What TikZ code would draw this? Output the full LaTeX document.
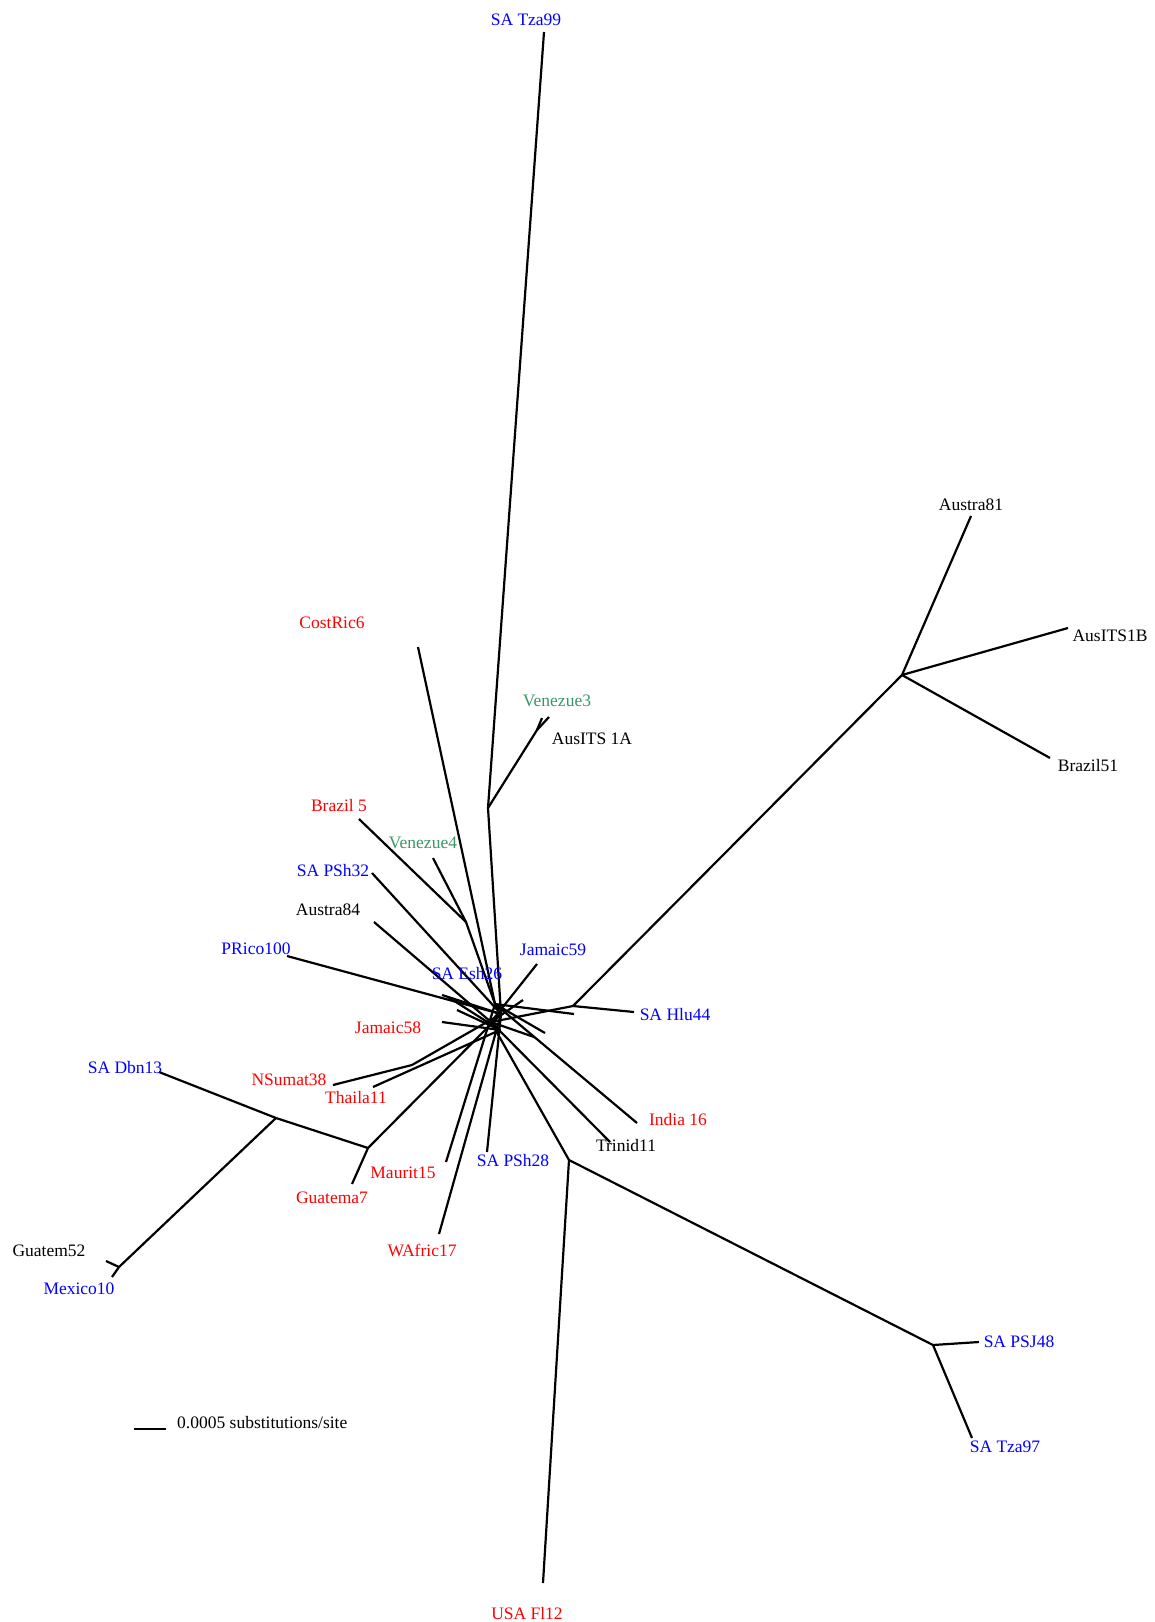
\documentclass[tikz,border=0pt]{standalone}
\usepackage{fontspec}
\setmainfont{Liberation Serif}
\usetikzlibrary{positioning}
\definecolor{venezgreen}{RGB}{56,152,100}

\begin{document}
\begin{tikzpicture}[x=1pt, y=-1pt,
    branch/.style={line width=2.2pt},
    every node/.style={font=\fontsize{17.5}{20}\selectfont, inner sep=0pt},
    bl/.style={text=blue}, rd/.style={text=red}, gr/.style={text=venezgreen}]
    \useasboundingbox (0,0) rectangle (1155,1622);
    % Pontas (tips)
    \coordinate (tTza99) at (544,32);
    \coordinate (tCost) at (418,647);
    \coordinate (tVen3) at (549,717);
    \coordinate (tAus1A) at (542,718);
    \coordinate (tBra5) at (359,819);
    \coordinate (tVen4) at (433,858);
    \coordinate (tPSh32) at (372,873);
    \coordinate (tAus84) at (374,922);
    \coordinate (tPRico) at (287,956);
    \coordinate (tJam59) at (537,964);
    \coordinate (tHlu) at (634,1012);
    \coordinate (tAus81) at (971,516);
    \coordinate (tAus1B) at (1068,628);
    \coordinate (tBra51) at (1050,758);
    \coordinate (tJam58) at (442,1022);
    \coordinate (tNSum) at (333,1085);
    \coordinate (tTha) at (373,1087);
    \coordinate (tDbn) at (159,1072);
    \coordinate (tGua52) at (106,1261);
    \coordinate (tMex) at (112,1277);
    \coordinate (tGua7) at (352,1184);
    \coordinate (tMau) at (446,1162);
    \coordinate (tWAf) at (439,1234);
    \coordinate (tPSh28) at (487,1152);
    \coordinate (tTri) at (610,1142);
    \coordinate (tInd) at (637,1123);
    \coordinate (tFl) at (543,1583);
    \coordinate (tPSJ) at (979,1342);
    \coordinate (tTza97) at (972,1438);
    % Nos internos
    \coordinate (nA) at (488,808);
    \coordinate (nV) at (537,730);
    \coordinate (nBV) at (466,922);
    \coordinate (nH) at (573,1006);
    \coordinate (nR) at (902,675);
    \coordinate (nL) at (569,1160);
    \coordinate (nP) at (933,1345);
    \coordinate (nG) at (368,1148);
    \coordinate (nD) at (276,1118);
    \coordinate (nM) at (119,1267);
    \coordinate (nT) at (412,1065);
    % Centro (estrela)
    \coordinate (k1) at (495,1004);
    \coordinate (k2) at (501,1014);
    \coordinate (k3) at (491,1022);
    \coordinate (k4) at (500,1030);
    \coordinate (s1) at (448,997);
    \coordinate (s2) at (457,1010);
    \coordinate (s3) at (523,1000);
    \coordinate (s4) at (545,1033);
    \coordinate (s5) at (534,1037);
    \coordinate (s6) at (574,1014);
    \coordinate (s7) at (442,995);
    % Ramos
    \foreach \a/\b in {tTza99/nA, nA/nV, nV/tVen3, nV/tAus1A, nA/k2,
        tCost/k1, tBra5/nBV, tVen4/nBV, nBV/k1, tPSh32/k2, tAus84/k3,
        tPRico/k2, tJam59/k3, nH/k3, nH/tHlu, nH/nR, nR/tAus81, nR/tAus1B,
        nR/tBra51, s6/k1, tInd/k1, tTri/k3, nL/k3, nL/tFl, nL/nP, nP/tPSJ,
        nP/tTza97, tPSh28/k2, tWAf/k2, tMau/k1, nG/k2, nG/tGua7, nG/nD,
        nD/tDbn, nD/nM, nM/tGua52, nM/tMex, tNSum/nT, nT/k2, tTha/k4,
        tJam58/k4, s1/k4, s2/k4, s3/k3, s4/k1, s5/k3, s7/k2, k1/k2, k2/k3,
        k3/k4}{
        \draw[branch] (\a) -- (\b);
    }
    % Nomes
    \node[bl] (lTza99) at (526,20) {SA Tza99};
    \node[rd] (lCost) at (332,623) {CostRic6};
    \node[gr] (lVen3) at (557,701) {Venezue3};
    \node (lAus1A) at (592,739) {AusITS 1A};
    \node[rd] (lBra5) at (339,806) {Brazil 5};
    \node[gr] (lVen4) at (423,843) {Venezue4};
    \node[bl] (lPSh32) at (333,871) {SA PSh32};
    \node (lAus84) at (328,910) {Austra84};
    \node[bl] (lPRico) at (256,949) {PRico100};
    \node[bl] (lJam59) at (553,950) {Jamaic59};
    \node[bl] (lEsh) at (467,974) {SA Esh26};
    \node[bl] (lHlu) at (675,1015) {SA Hlu44};
    \node (lAus81) at (971,505) {Austra81};
    \node (lAus1B) at (1110,636) {AusITS1B};
    \node (lBra51) at (1088,766) {Brazil51};
    \node[rd] (lJam58) at (388,1028) {Jamaic58};
    \node[bl] (lDbn) at (125,1068) {SA Dbn13};
    \node[rd] (lNSum) at (289,1080) {NSumat38};
    \node[rd] (lTha) at (356,1098) {Thaila11};
    \node[rd] (lInd) at (678,1119) {India 16};
    \node (lTri) at (626,1145) {Trinid11};
    \node[bl] (lPSh28) at (513,1160) {SA PSh28};
    \node[rd] (lMau) at (403,1173) {Maurit15};
    \node[rd] (lGua7) at (332,1198) {Guatema7};
    \node[rd] (lWAf) at (422,1250) {WAfric17};
    \node (lGua52) at (49,1251) {Guatem52};
    \node[bl] (lMex) at (79,1289) {Mexico10};
    \node[bl] (lPSJ) at (1019,1342) {SA PSJ48};
    \node[bl] (lTza97) at (1005,1447) {SA Tza97};
    \node[rd] (lFl) at (527,1613) {USA Fl12};
    % Escala
    \coordinate (e1) at (134,1429);
    \coordinate (e2) at (166,1429);
    \draw[branch] (e1) -- (e2);
    \node[anchor=west] (lEsc) at (177,1423) {0.0005 substitutions/site};
\end{tikzpicture}
\end{document}
